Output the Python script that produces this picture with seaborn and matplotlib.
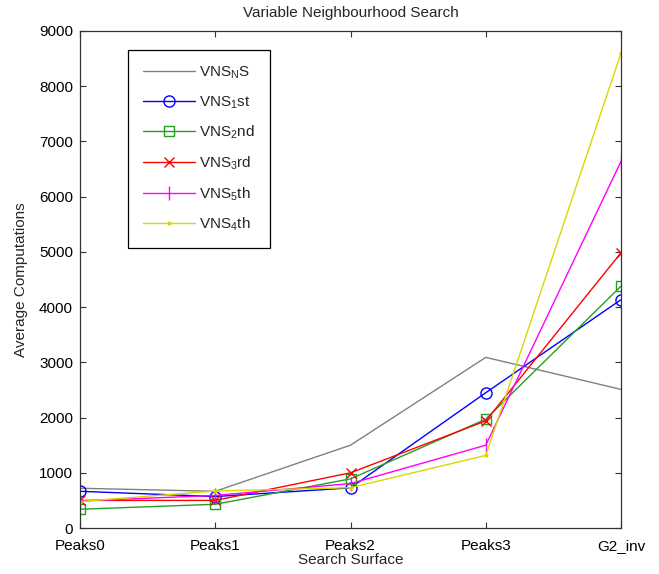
import matplotlib
matplotlib.use("Agg")
import matplotlib.pyplot as plt
import seaborn as sns
import pandas as pd

categories = ["Peaks0", "Peaks1", "Peaks2", "Peaks3", "G2_inv"]
vns_ns = [720, 665, 1500, 3090, 2510]
vns_1st = [665, 570, 727, 2450, 4135]
vns_2nd = [340, 430, 890, 1970, 4380]
vns_3rd = [500, 500, 1000, 1940, 4985]
vns_5th = [490, 590, 805, 1500, 6640]
vns_4th = [480, 670, 730, 1315, 8600]

labels = [r"VNS$_\mathregular{N}$S", r"VNS$_\mathregular{1}$st", r"VNS$_\mathregular{2}$nd",
          r"VNS$_\mathregular{3}$rd", r"VNS$_\mathregular{5}$th", r"VNS$_\mathregular{4}$th"]
series = [vns_ns, vns_1st, vns_2nd, vns_3rd, vns_5th, vns_4th]
colors = ["#808080", "#0000ff", "#22a022", "#ff0000", "#ff00ff", "#d8d800"]
markers = [None, "o", "s", "x", "|", "."]
msizes = [0, 8, 7, 7, 10, 4]

sns.set_style("ticks")
plt.rcParams["font.family"] = ["Liberation Sans", "DejaVu Sans"]
plt.rcParams["mathtext.fontset"] = "custom"
plt.rcParams["mathtext.rm"] = "Liberation Sans"

fs = 11
fig = plt.figure(figsize=(6.59, 5.74), dpi=100)
ax = fig.add_axes([0.1214, 0.0801, 0.821, 0.866])

x = list(range(len(categories)))
for vals, lab, c, m, ms in zip(series, labels, colors, markers, msizes):
    df = pd.DataFrame({"x": x, "y": vals})
    kw = dict(marker=m, markersize=ms, markerfacecolor="none", markeredgecolor=c,
              markeredgewidth=1.0) if m else {}
    if m == ".":
        kw["markerfacecolor"] = c
    sns.lineplot(data=df, x="x", y="y", ax=ax, color=c, linewidth=1.0, label=lab, **kw)

ax.set_xlim(0, 4)
ax.set_ylim(0, 9000)
ax.set_xticks(x)
ax.set_xticklabels(categories)
ax.set_yticks(range(0, 9001, 1000))
ax.tick_params(direction="in", top=True, right=True, labelsize=fs, length=4, width=0.8,
               colors="#333333", labelcolor="black")
ax.tick_params(axis="x", pad=8)
ax.tick_params(axis="y", pad=5)
for s in ax.spines.values():
    s.set_visible(True)
    s.set_color("#333333")
    s.set_linewidth(0.9)
ax.set_xlabel("Search Surface", fontsize=fs, labelpad=0)
ax.set_ylabel("Average Computations", fontsize=fs, labelpad=8)
ax.set_title("Variable Neighbourhood Search", fontsize=fs, pad=10)

leg = ax.legend(loc="upper left", bbox_to_anchor=(0.089, 0.962), fancybox=False,
                edgecolor="black", framealpha=1, fontsize=fs, handlelength=3.4,
                labelspacing=0.85, borderpad=0.95, handletextpad=0.3, borderaxespad=0)
leg.get_frame().set_linewidth(0.9)

fig.savefig("out.png", dpi=100)
